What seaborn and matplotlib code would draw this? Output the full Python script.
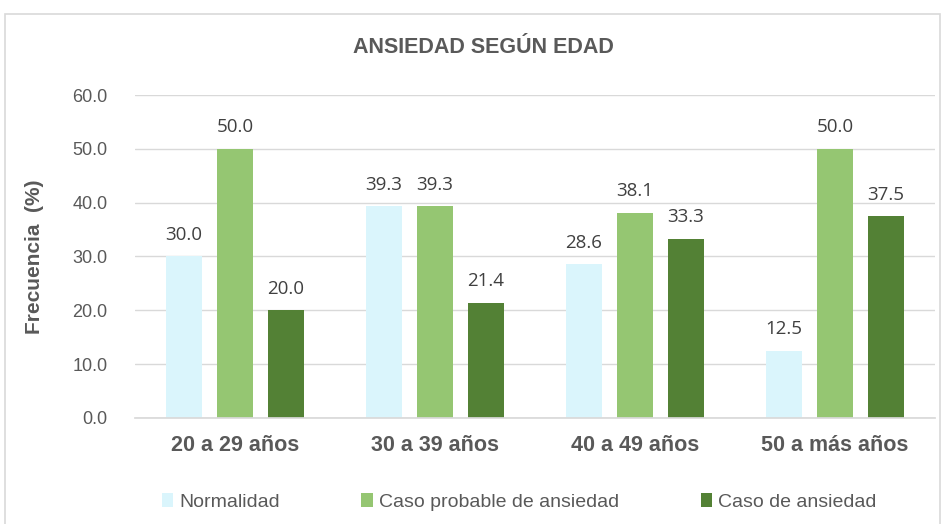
import seaborn as sns
import matplotlib.pyplot as plt
import matplotlib.patches as mpatches
import pandas as pd

edades = ['20 a 29 años', '30 a 39 años', '40 a 49 años', '50 a más años']
normalidad = [30.0, 39.3, 28.6, 12.5]
caso_probable = [50.0, 39.3, 38.1, 50.0]
caso_ansiedad = [20.0, 21.4, 33.3, 37.5]
grupos = ['Normalidad', 'Caso probable de ansiedad', 'Caso de ansiedad']
colores = ['#DAF5FC', '#95C672', '#538135']

df = pd.DataFrame({
    'edad': edades * 3,
    'grupo': [g for g in grupos for _ in edades],
    'valor': normalidad + caso_probable + caso_ansiedad,
})

sns.set_theme(style='white')
plt.rcParams['font.family'] = ['Liberation Sans', 'DejaVu Sans']

fig = plt.figure(figsize=(9.47, 5.24), dpi=100)
ax = fig.add_axes([0.1426, 0.2023, 0.8448, 0.6164])

# marco del grafico
fig.patches.append(mpatches.Rectangle((5 / 947, -0.01), 935 / 947, 1 - 14 / 524 + 0.01,
                                      transform=fig.transFigure, fill=False,
                                      edgecolor='#D9D9D9', lw=1.2))

sns.barplot(data=df, x='edad', y='valor', hue='grupo', palette=colores,
            width=0.765, gap=0.31, saturation=1, linewidth=0, ax=ax, legend=True)

for cont in ax.containers:
    ax.bar_label(cont, fmt='%.1f', padding=9, fontsize=13.5, color='#404040',
                 family=['Open Sans', 'DejaVu Sans'])

ax.set_ylim(0, 60)
ax.set_xlim(-0.5, 3.5)
ax.set_yticks(range(0, 61, 10))
ax.set_yticklabels([f'{v:.1f}' for v in range(0, 61, 10)], fontsize=13, color='#595959')
ax.yaxis.grid(True, color='#D9D9D9', lw=1)
ax.set_axisbelow(True)
for s in ['top', 'right', 'left']:
    ax.spines[s].set_visible(False)
ax.spines['bottom'].set_color('#D9D9D9')
ax.tick_params(axis='both', length=0)
ax.tick_params(axis='x', pad=12)
ax.tick_params(axis='y', pad=20)
for lbl in ax.get_xticklabels():
    lbl.set_fontsize(15.5)
    lbl.set_fontweight('bold')
    lbl.set_color('#595959')

ax.set_xlabel('')
ax.set_ylabel('Frecuencia  (%)', fontsize=15, fontweight='bold', color='#595959', labelpad=20)
fig.text(0.51, 0.91, 'ANSIEDAD SEGÚN EDAD', ha='center', va='center',
         fontsize=15.5, fontweight='bold', color='#595959')

ax.legend(loc='center', bbox_to_anchor=(0.48, -0.26), ncol=3, frameon=False,
          fontsize=14, handlelength=0.6, handleheight=0.7, columnspacing=4.2,
          handletextpad=0.3, labelcolor='#595959')

plt.savefig('out.png', dpi=100)
